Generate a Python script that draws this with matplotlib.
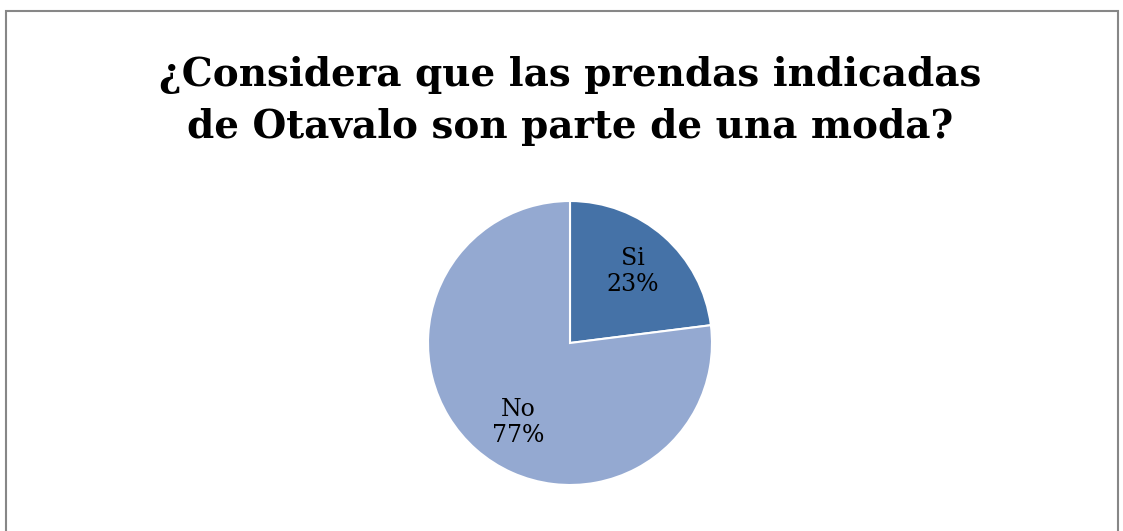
import matplotlib
matplotlib.use('Agg')
import matplotlib.pyplot as plt
from matplotlib.patches import Rectangle
import numpy as np

categories = ['Si', 'No']
values = [23, 77]
colors = ['#4572A7', '#94A9D1']
title = '¿Considera que las prendas indicadas\nde Otavalo son parte de una moda?'

W, H = 1123, 531
fig = plt.figure(figsize=(W / 100, H / 100), dpi=100)
fig.patch.set_facecolor('white')

# outer chart border
fig.patches.append(Rectangle((5.5 / W, -0.05), 1112 / W, (H - 10.5) / H + 0.05,
                             transform=fig.transFigure, fill=False,
                             edgecolor='#878787', linewidth=1.5))

fig.text(570 / W, (H - 101) / H, title, ha='center', va='center',
         fontsize=28, fontweight='bold', family='DejaVu Serif',
         linespacing=1.5)

# pie axes: centre (570, 343), radius 142 px
cx, cy, r = 570, 343, 142
ax = fig.add_axes([(cx - r) / W, (H - cy - r) / H, 2 * r / W, 2 * r / H])
labels = [f'{c}\n{v}%' for c, v in zip(categories, values)]
wedges, texts = ax.pie(values, labels=labels, colors=colors, startangle=90,
                       counterclock=False, labeldistance=0.67,
                       wedgeprops=dict(edgecolor='white', linewidth=1.5),
                       textprops=dict(fontsize=17, family='DejaVu Serif',
                                      ha='center', va='center',
                                      linespacing=1.15))
# Excel "best fit" nudges the big slice label a bit further round
a = np.deg2rad(237)
texts[1].set_position((0.67 * np.cos(a), 0.67 * np.sin(a)))
ax.set_xlim(-1, 1)
ax.set_ylim(-1, 1)
ax.set_aspect('equal')
ax.axis('off')

plt.savefig('out.png', dpi=100)
plt.close()
